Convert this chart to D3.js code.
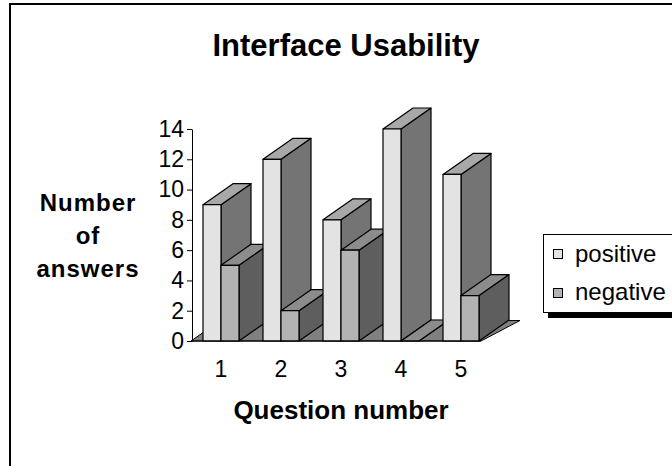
<!DOCTYPE html>
<html>
<head>
<meta charset="utf-8">
<script src="https://cdn.jsdelivr.net/npm/d3@7/dist/d3.min.js"></script>
<style>
  body { margin: 0; background: #fff; }
  svg { display: block; font-family: "Liberation Sans", Arial, sans-serif; }
</style>
</head>
<body>
<div id="chart"></div>
<script>
// chart data
var questions = [1, 2, 3, 4, 5];
var seriesNames = ["positive", "negative"];
var positive = [9, 12, 8, 14, 11];
var negative = [5, 2, 6, 0, 3];
var yTicks = [0, 2, 4, 6, 8, 10, 12, 14];

const w = 672;
const h = 466;

// depth of the 3d bars
const depthX = 30, depthY = -21;

// colours: front, top, side for each series
const colours = {
  positive: { front: "#e3e3e3", top: "#a8a8a8", side: "#747474" },
  negative: { front: "#b3b3b3", top: "#8c8c8c", side: "#5e5e5e" }
};

const xScale = d3.scaleBand()
                 .domain(questions)
                 .range([191, 491])
                 .paddingInner(0.4)
                 .paddingOuter(0.2);

const sScale = d3.scaleBand()
                 .domain(seriesNames)
                 .range([0, xScale.bandwidth()]);

const yScale = d3.scaleLinear()
                 .domain([0, 14])
                 .range([341, 129]);

const svg = d3.select("#chart")
              .append("svg")
              .attr("width", w)
              .attr("height", h);

// outer chart border
svg.append("rect")
   .attr("x", 10).attr("y", 4)
   .attr("width", 700).attr("height", 500)
   .attr("fill", "none")
   .attr("stroke", "#000")
   .attr("stroke-width", 2);

// title
svg.append("text")
   .attr("x", 346).attr("y", 56)
   .attr("text-anchor", "middle")
   .style("font-size", "31px")
   .style("font-weight", "bold")
   .text("Interface Usability");

// floor
const y0 = yScale(0);
const fx0 = xScale.range()[0], fx1 = xScale.range()[1] - 10;
svg.append("path")
   .attr("d", d3.line()([
     [fx0, y0], [fx1, y0], [fx1 + 39, y0 - 20.5], [fx0 + depthX, y0 + depthY]
   ]) + "Z")
   .attr("fill", "#808080")
   .attr("stroke", "#000")
   .attr("stroke-width", 1);

// flatten bars, left to right
var bars = [];
questions.forEach(function(q, i) {
  bars.push({ q: q, s: "positive", v: positive[i] });
  bars.push({ q: q, s: "negative", v: negative[i] });
});

const g = svg.append("g")
             .attr("stroke", "#000")
             .attr("stroke-width", 1.2)
             .attr("stroke-linejoin", "round");

bars.forEach(function(d) {
  const x0 = xScale(d.q) + sScale(d.s);
  const x1 = x0 + sScale.bandwidth();
  const yt = yScale(d.v);
  const c = colours[d.s];
  // side face
  g.append("path")
   .attr("d", d3.line()([[x1, y0], [x1 + depthX, y0 + depthY], [x1 + depthX, yt + depthY], [x1, yt]]) + "Z")
   .attr("fill", c.side);
  // top face
  g.append("path")
   .attr("d", d3.line()([[x0, yt], [x0 + depthX, yt + depthY], [x1 + depthX, yt + depthY], [x1, yt]]) + "Z")
   .attr("fill", c.top);
  // front face
  g.append("rect")
   .attr("x", x0).attr("y", yt)
   .attr("width", x1 - x0).attr("height", y0 - yt)
   .attr("fill", c.front);
});

// front edge of the floor
svg.append("line")
   .attr("x1", fx0).attr("x2", fx1)
   .attr("y1", y0).attr("y2", y0)
   .attr("stroke", "#000");

// y axis
const yAxis = d3.axisLeft(yScale)
                .tickValues(yTicks)
                .tickSize(5)
                .tickSizeOuter(0);
const ya = svg.append("g")
              .attr("transform", "translate(" + 192 + ",0)")
              .call(yAxis);
ya.selectAll("text")
  .attr("x", -8)
  .style("font-size", "23px")
  .style("font-family", "Liberation Sans, Arial, sans-serif")
  .attr("fill", "#000");
ya.selectAll("line, path").attr("stroke", "#000");

// category labels
svg.selectAll(".cat")
   .data(questions)
   .enter()
   .append("text")
   .attr("class", "cat")
   .attr("x", d => xScale(d) + xScale.bandwidth() / 2)
   .attr("y", 377)
   .attr("text-anchor", "middle")
   .style("font-size", "23px")
   .text(d => d);

// axis titles
svg.append("text")
   .attr("x", 341).attr("y", 419)
   .attr("text-anchor", "middle")
   .style("font-size", "26px")
   .style("font-weight", "bold")
   .text("Question number");

["Number", "of", "answers"].forEach(function(t, i) {
  svg.append("text")
     .attr("x", 88).attr("y", 211 + i * 33)
     .attr("text-anchor", "middle")
     .style("font-size", "24px")
     .style("font-weight", "bold")
     .style("letter-spacing", "1px")
     .text(t);
});

// legend
const lg = svg.append("g");
lg.append("rect")
  .attr("x", 548).attr("y", 313)
  .attr("width", 140).attr("height", 5)
  .attr("fill", "#000");
lg.append("rect")
  .attr("x", 543.5).attr("y", 234.5)
  .attr("width", 140).attr("height", 78)
  .attr("fill", "#fff")
  .attr("stroke", "#000");
seriesNames.forEach(function(s, i) {
  lg.append("rect")
    .attr("x", 553.5).attr("y", 249.5 + i * 39)
    .attr("width", 9).attr("height", 9)
    .attr("fill", colours[s].front)
    .attr("stroke", "#000");
  lg.append("text")
    .attr("x", 575).attr("y", 262 + i * 38)
    .style("font-size", "24px")
    .text(s);
});
</script>
</body>
</html>
